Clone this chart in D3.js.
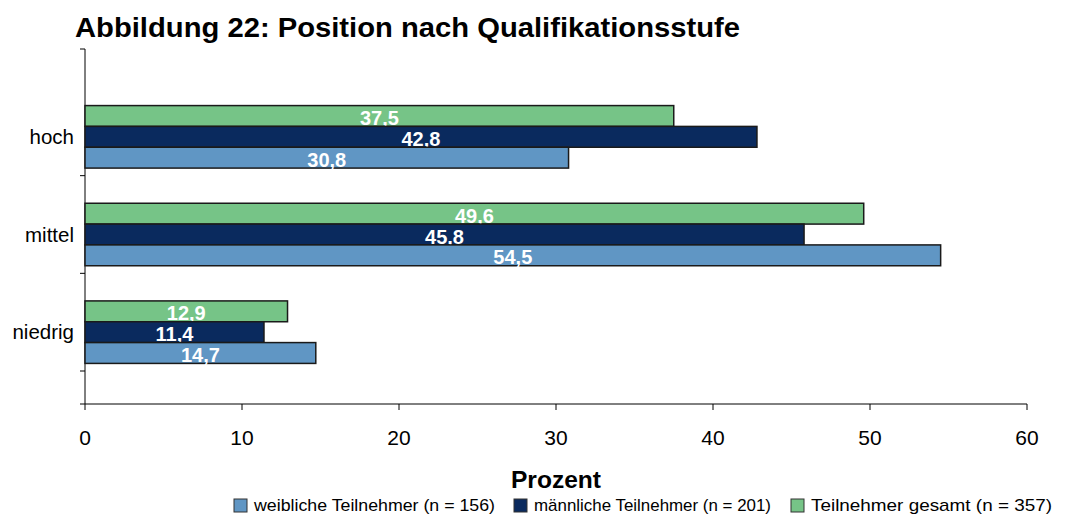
<!DOCTYPE html>
<html>
<head>
<meta charset="utf-8">
<script src="https://cdn.jsdelivr.net/npm/d3@7"></script>
<style>
  body { margin: 0; background: #fff; }
  text { font-family: "Liberation Sans", Arial, sans-serif; }
</style>
</head>
<body>
<div id="chart"></div>
<script>
// Data.
const categories = ["hoch", "mittel", "niedrig"];
const seriesNames = ["Teilnehmer gesamt (n = 357)", "männliche Teilnehmer (n = 201)", "weibliche Teilnehmer (n = 156)"];
const gesamt   = [37.5, 49.6, 12.9];
const maennlich = [42.8, 45.8, 11.4];
const weiblich = [30.8, 54.5, 14.7];
const xTicks = [0, 10, 20, 30, 40, 50, 60];
// legend order as in the picture
const legendOrder = [2, 1, 0];

const WIDTH = 1065, HEIGHT = 518;
const colors = ["#76c487", "#0a2a5e", "#6096c4"];
const values = [gesamt, maennlich, weiblich];

const svg = d3.select("#chart").append("svg")
    .attr("width", WIDTH)
    .attr("height", HEIGHT);

// Title.
svg.append("text")
    .attr("x", 75).attr("y", 37)
    .attr("font-size", 27).attr("font-weight", "bold")
    .attr("textLength", 665).attr("lengthAdjust", "spacingAndGlyphs")
    .text("Abbildung 22: Position nach Qualifikationsstufe");

var x = d3.scaleLinear().domain([0, 60]).range([85, 1027]);
var y = d3.scaleBand().domain(categories).range([88, 381]).paddingInner(0.36).paddingOuter(0.18);
var inner = d3.scaleBand().domain(d3.range(3)).range([0, y.bandwidth()]);

// Axis lines.
svg.append("line").attr("x1", 85).attr("x2", 85).attr("y1", 49).attr("y2", 404)
    .attr("stroke", "#000").attr("stroke-width", 1);
svg.append("line").attr("x1", 80).attr("x2", x(60)).attr("y1", 404).attr("y2", 404)
    .attr("stroke", "#000").attr("stroke-width", 1);

// Category ticks (between groups).
var yTicks = [49].concat(categories.map(function (c) { return y(c) + y.bandwidth() + (y.step() - y.bandwidth()) / 2 - 10; }));
svg.selectAll(".ytick").data(yTicks).enter().append("line")
    .attr("x1", 80).attr("x2", 85)
    .attr("y1", function (d) { return d; }).attr("y2", function (d) { return d; })
    .attr("stroke", "#000");

// x ticks
svg.selectAll(".xtick").data(xTicks).enter().append("line")
    .attr("x1", function (d) { return x(d); }).attr("x2", function (d) { return x(d); })
    .attr("y1", 404).attr("y2", 410)
    .attr("stroke", "#000");
svg.selectAll(".xlabel").data(xTicks).enter().append("text")
    .attr("x", function (d) { return x(d); }).attr("y", 445)
    .attr("text-anchor", "middle").attr("font-size", 21)
    .text(function (d) { return d; });

// Category labels.
svg.selectAll(".ylabel").data(categories).enter().append("text")
    .attr("x", 74).attr("y", function (d) { return y(d) + y.bandwidth() / 2 + 7; })
    .attr("text-anchor", "end").attr("font-size", 20.5)
    .text(function (d) { return d; });

// Bars.
values.forEach(function (vals, s) {
    var g = svg.append("g");
    g.selectAll("rect").data(vals).enter().append("rect")
        .attr("x", x(0))
        .attr("y", function (d, i) { return y(categories[i]) + inner(s); })
        .attr("width", function (d) { return x(d) - x(0); })
        .attr("height", inner.bandwidth())
        .attr("fill", colors[s])
        .attr("stroke", "#1a1a1a").attr("stroke-width", 1.5);
    g.selectAll("text").data(vals).enter().append("text")
        .attr("x", function (d) { return (x(d) + x(0)) / 2; })
        .attr("y", function (d, i) { return y(categories[i]) + inner(s) + inner.bandwidth() / 2 + 9; })
        .attr("text-anchor", "middle").attr("font-size", 20).attr("font-weight", "bold")
        .attr("fill", "#fff")
        .text(function (d) { return d.toFixed(1).replace(".", ","); });
});

// Axis title.
svg.append("text")
    .attr("x", x(30)).attr("y", 488)
    .attr("text-anchor", "middle").attr("font-size", 23).attr("font-weight", "bold")
    .attr("textLength", 90).attr("lengthAdjust", "spacingAndGlyphs")
    .text("Prozent");

// Legend.
var legendX = [234, 514, 791];
var legendW = [241, 237, 241];
legendOrder.forEach(function (s, k) {
    svg.append("rect")
        .attr("x", legendX[k]).attr("y", 499)
        .attr("width", 13).attr("height", 13)
        .attr("fill", colors[s]).attr("stroke", "#333").attr("stroke-width", 1);
    svg.append("text")
        .attr("x", legendX[k] + 20).attr("y", 511)
        .attr("font-size", 17)
        .attr("textLength", legendW[k]).attr("lengthAdjust", "spacingAndGlyphs")
        .text(seriesNames[s]);
});
</script>
</body>
</html>
